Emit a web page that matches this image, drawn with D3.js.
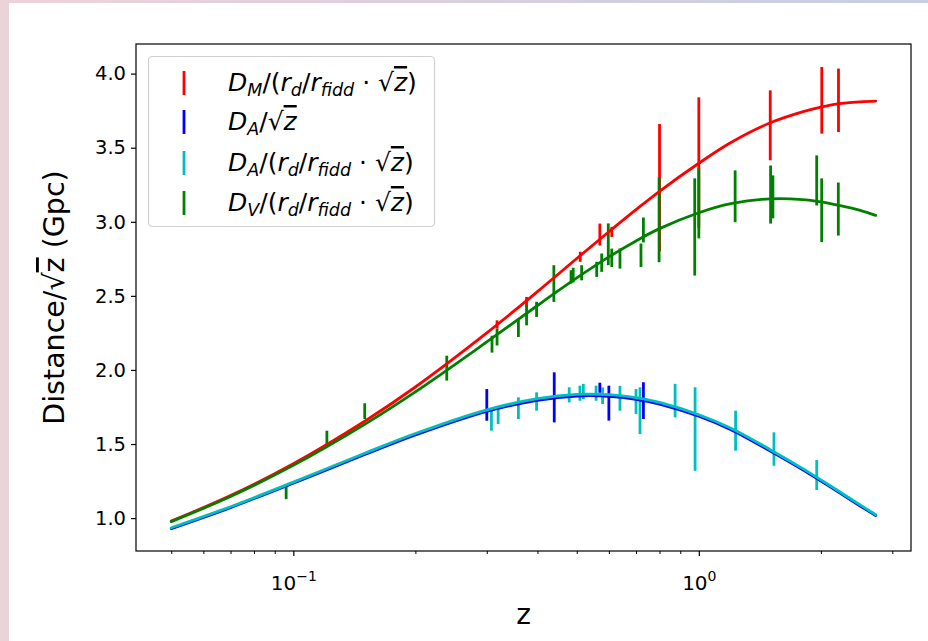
<!DOCTYPE html>
<html>
<head>
<meta charset="utf-8">
<title>Distance / sqrt(z)</title>
<script src="https://cdnjs.cloudflare.com/ajax/libs/d3/7.8.5/d3.min.js"></script>
<style>
body { margin: 0; background: #fff; }
svg { display: block; font-family: "DejaVu Sans", sans-serif; }
</style>
</head>
<body>
<svg width="928" height="641"></svg>
<script>
// theory curves at these redshifts
var zGrid     = [0.05, 0.07, 0.1, 0.15, 0.2, 0.3, 0.4, 0.5, 0.6, 0.7, 0.8, 1.0, 1.2, 1.5, 1.8, 2.0, 2.2, 2.5, 2.73];
var dmCurve   = [0.980, 1.152, 1.367, 1.654, 1.885, 2.250, 2.529, 2.752, 2.933, 3.082, 3.206, 3.395, 3.535, 3.668, 3.742, 3.774, 3.796, 3.810, 3.815];
var daCurve   = [0.929, 1.071, 1.236, 1.429, 1.562, 1.721, 1.795, 1.824, 1.822, 1.802, 1.770, 1.688, 1.597, 1.453, 1.328, 1.250, 1.179, 1.082, 1.017];
var daRdCurve = [0.935, 1.077, 1.243, 1.438, 1.571, 1.731, 1.806, 1.835, 1.833, 1.813, 1.781, 1.698, 1.607, 1.462, 1.336, 1.258, 1.186, 1.089, 1.023];
var dvCurve   = [0.976, 1.146, 1.356, 1.633, 1.852, 2.189, 2.435, 2.621, 2.763, 2.871, 2.954, 3.061, 3.122, 3.155, 3.150, 3.134, 3.112, 3.077, 3.043];

// measurements with error bars
var zDM = [0.318, 0.376, 0.51, 0.57, 0.61, 0.80, 1.00, 1.50, 2.01, 2.21];
var vDM = [2.307, 2.459, 2.764, 2.914, 2.932, 3.23, 3.40, 3.651, 3.820, 3.820];
var eDM = [0.028, 0.034, 0.034, 0.074, 0.034, 0.43, 0.44, 0.236, 0.225, 0.214];

var zDA = [0.30, 0.44, 0.57, 0.60, 0.73];
var vDA = [1.764, 1.815, 1.880, 1.776, 1.793];
var eDA = [0.107, 0.169, 0.034, 0.118, 0.124];

var zDArd = [0.308, 0.320, 0.359, 0.398, 0.479, 0.509, 0.519, 0.558, 0.579, 0.639, 0.700, 0.716, 0.874, 0.979, 1.232, 1.532, 1.953];
var vDArd = [1.663, 1.686, 1.742, 1.787, 1.832, 1.843, 1.855, 1.843, 1.826, 1.809, 1.787, 1.725, 1.793, 1.601, 1.590, 1.466, 1.291];
var eDArd = [0.073, 0.051, 0.073, 0.062, 0.051, 0.051, 0.051, 0.051, 0.056, 0.084, 0.084, 0.158, 0.113, 0.282, 0.135, 0.113, 0.101];

var zDV = [0.096, 0.121, 0.150, 0.239, 0.309, 0.318, 0.359, 0.376, 0.398, 0.439, 0.484, 0.490, 0.514, 0.560, 0.576, 0.598, 0.610, 0.639, 0.720, 0.730, 0.798, 0.977, 1.000, 1.229, 1.503, 1.523, 1.953, 2.009, 2.208];
var vDV = [1.179, 1.545, 1.722, 2.012, 2.174, 2.222, 2.284, 2.369, 2.409, 2.583, 2.628, 2.640, 2.656, 2.679, 2.724, 2.848, 2.757, 2.752, 2.774, 2.945, 3.014, 2.965, 3.124, 3.172, 3.184, 3.168, 3.279, 3.078, 3.086];
var eDV = [0.051, 0.045, 0.053, 0.084, 0.057, 0.057, 0.062, 0.068, 0.051, 0.124, 0.045, 0.050, 0.051, 0.051, 0.062, 0.141, 0.062, 0.068, 0.079, 0.084, 0.287, 0.328, 0.236, 0.175, 0.196, 0.145, 0.169, 0.215, 0.179];

var yTicks = [1.0, 1.5, 2.0, 2.5, 3.0, 3.5, 4.0];
var xMajor = [0.1, 1];
var xMinor = [0.05, 0.06, 0.07, 0.08, 0.09, 0.2, 0.3, 0.4, 0.5, 0.6, 0.7, 0.8, 0.9, 2, 3];

var svg = d3.select("svg");

/* page background strips */
var defs = svg.append("defs");
var grad = defs.append("linearGradient").attr("id", "topg");
grad.append("stop").attr("offset", "0%").attr("stop-color", "#ecd2da");
grad.append("stop").attr("offset", "100%").attr("stop-color", "#c6cee1");
svg.append("rect").attr("x", 0).attr("y", 0).attr("width", 928).attr("height", 3).attr("fill", "url(#topg)");
svg.append("rect").attr("x", 0).attr("y", 0).attr("width", 9).attr("height", 641).attr("fill", "#ebd3da");

var plotL = 136, plotR = 911, plotT = 44, plotB = 551;

var x = d3.scaleLog().domain([0.04093, 3.336]).range([plotL, plotR]);
var y = d3.scaleLinear().domain([0.778, 4.2]).range([plotB, plotT]);

/* axes */
var yAxis = d3.axisLeft(y).tickValues(yTicks).tickFormat(d3.format(".1f")).tickSize(5).tickPadding(5);
var yG = svg.append("g").attr("transform", "translate(" + plotL + ",0)").call(yAxis);
yG.select(".domain").remove();
yG.selectAll("text").attr("font-size", 19.5).attr("fill", "#000").attr("font-family", "DejaVu Sans");
yG.selectAll("line").attr("stroke", "#000").attr("stroke-width", 1.2);

var xMinorAxis = d3.axisBottom(x).tickValues(xMinor).tickFormat("").tickSize(3);
var xmG = svg.append("g").attr("transform", "translate(0," + plotB + ")").call(xMinorAxis);
xmG.select(".domain").remove();
xmG.selectAll("line").attr("stroke", "#000").attr("stroke-width", 1);

var xAxis = d3.axisBottom(x).tickValues(xMajor).tickFormat("").tickSize(5);
var xG = svg.append("g").attr("transform", "translate(0," + plotB + ")").call(xAxis);
xG.select(".domain").remove();
xG.selectAll("line").attr("stroke", "#000").attr("stroke-width", 1.2);
xG.selectAll(".tick").each(function(d) {
    var t = d3.select(this).append("text")
        .attr("y", 39).attr("fill", "#000").attr("font-size", 20)
        .attr("font-family", "DejaVu Sans")
        .attr("text-anchor", "middle");
    t.append("tspan").text("10");
    t.append("tspan").attr("dy", -9).attr("font-size", 14).text(d < 1 ? "\u22121" : "0");
});

/* error bars */
function errorBars(zs, vs, es, color) {
    svg.append("g").selectAll("line")
        .data(zs)
        .enter()
        .append("line")
        .attr("x1", d => x(d)).attr("x2", d => x(d))
        .attr("y1", (d, i) => y(vs[i] - es[i]))
        .attr("y2", (d, i) => y(vs[i] + es[i]))
        .attr("stroke", color)
        .attr("stroke-width", 2.8);
}
errorBars(zDM, vDM, eDM, "#ff0000");
errorBars(zDA, vDA, eDA, "#0000ff");
errorBars(zDArd, vDArd, eDArd, "#00bfbf");
errorBars(zDV, vDV, eDV, "#008000");

/* model curves */
var line = d3.line()
    .x(d => x(d[0]))
    .y(d => y(d[1]))
    .curve(d3.curveCatmullRom.alpha(0.5));

function curve(vals, color) {
    svg.append("path")
        .datum(zGrid.map((z, i) => [z, vals[i]]))
        .attr("d", line)
        .attr("fill", "none")
        .attr("stroke", color)
        .attr("stroke-width", 2.8)
        .attr("stroke-linecap", "round");
}
curve(dmCurve, "#ff0000");
curve(daCurve, "#0000ff");
curve(daRdCurve, "#00bfbf");
curve(dvCurve, "#008000");

/* frame */
svg.append("rect")
    .attr("x", plotL).attr("y", plotT)
    .attr("width", plotR - plotL).attr("height", plotB - plotT)
    .attr("fill", "none").attr("stroke", "#000").attr("stroke-width", 1.2);

/* axis labels */
svg.append("text")
    .attr("x", (plotL + plotR) / 2).attr("y", 624)
    .attr("text-anchor", "middle").attr("font-size", 28)
    .text("z");

var yl = svg.append("text")
    .attr("transform", "translate(64," + ((plotT + plotB) / 2) + ") rotate(-90)")
    .attr("text-anchor", "middle").attr("font-size", 28.5);
yl.append("tspan").text("Distance/\u221A");
yl.append("tspan").attr("text-decoration", "overline").text("z");
yl.append("tspan").text(" (Gpc)");

/* legend */
var legend = svg.append("g");
legend.append("rect")
    .attr("x", 148.5).attr("y", 56.5).attr("width", 286).attr("height", 170)
    .attr("rx", 4).attr("fill", "#fff").attr("fill-opacity", 0.8)
    .attr("stroke", "#d0d0d0").attr("stroke-width", 1.2);

var legColors = ["#ff0000", "#0000ff", "#00bfbf", "#008000"];
var legSub    = ["M", "A", "A", "V"];
var legScaled = [true, false, true, true];
var legY      = [83, 122, 163, 203];

legColors.forEach(function(c, i) {
    legend.append("line")
        .attr("x1", 184).attr("x2", 184)
        .attr("y1", legY[i] - 12).attr("y2", legY[i] + 12)
        .attr("stroke", c).attr("stroke-width", 2.8);

    var t = legend.append("text")
        .attr("x", 228).attr("y", legY[i] + 8)
        .attr("font-size", 25);
    t.append("tspan").attr("font-style", "italic").text("D");
    t.append("tspan").attr("font-style", "italic").attr("font-size", 17.5).attr("dy", 5).text(legSub[i]);
    if (legScaled[i]) {
        t.append("tspan").attr("dy", -5).text("/(");
        t.append("tspan").attr("font-style", "italic").text("r");
        t.append("tspan").attr("font-style", "italic").attr("font-size", 17.5).attr("dy", 5).text("d");
        t.append("tspan").attr("dy", -5).text("/");
        t.append("tspan").attr("font-style", "italic").text("r");
        t.append("tspan").attr("font-style", "italic").attr("font-size", 17.5).attr("dy", 5).text("fidd");
        t.append("tspan").attr("dy", -5).text(" \u00B7 \u221A");
        t.append("tspan").attr("font-style", "italic").attr("text-decoration", "overline").text("z");
        t.append("tspan").text(")");
    } else {
        t.append("tspan").attr("dy", -5).text("/\u221A");
        t.append("tspan").attr("font-style", "italic").attr("text-decoration", "overline").text("z");
    }
});
</script>
</body>
</html>
